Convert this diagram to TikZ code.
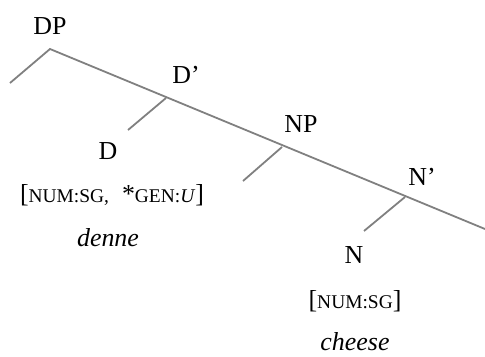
\documentclass[tikz,border=0pt]{standalone}
\usepackage{fontspec}
\setmainfont{Liberation Serif}
% faked small capitals for the feature labels
\newcommand{\fsc}[1]{{\fontsize{19.5}{19.5}\selectfont #1}}
\begin{document}
\begin{tikzpicture}[x=1bp,y=-1bp,
  lbl/.style={font=\fontsize{26}{28}\selectfont, inner sep=0pt, anchor=center},
  branch/.style={draw=black!50, line width=1.8bp}]
\useasboundingbox (0,0) rectangle (485,356);

% branching points and free ends of the tree
\coordinate (dpj) at (50,49);
\coordinate (spec) at (10,83);
\coordinate (dbarj) at (166,98);
\coordinate (dleaf) at (128,130);
\coordinate (npj) at (282,147);
\coordinate (npspec) at (243,181);
\coordinate (nbarj) at (405,197);
\coordinate (nleaf) at (364,231);
\coordinate (comp) at (485,229);

% category labels
\node[lbl] (dp) at (50,26) {DP};
\node[lbl] (dbar) at (186,75) {D'};
\node[lbl] (np) at (301,124) {NP};
\node[lbl] (nbar) at (422,177) {N'};
\node[lbl] (d) at (108,151) {D};
\node[lbl] (n) at (354,255) {N};

% features and words
\node[lbl] (dfeat) at (112,195) {[\fsc{NUM:SG,}\ \ *\fsc{GEN:\textit{U}}]};
\node[lbl] (dword) at (108,238) {\textit{denne}};
\node[lbl] (nfeat) at (355,301) {[\fsc{NUM:SG}]};
\node[lbl] (nword) at (355,342) {\textit{cheese}};

% tree lines
\draw[branch] (spec) -- (dpj) -- (comp);
\draw[branch] (dbarj) -- (dleaf);
\draw[branch] (npj) -- (npspec);
\draw[branch] (nbarj) -- (nleaf);
\end{tikzpicture}
\end{document}
